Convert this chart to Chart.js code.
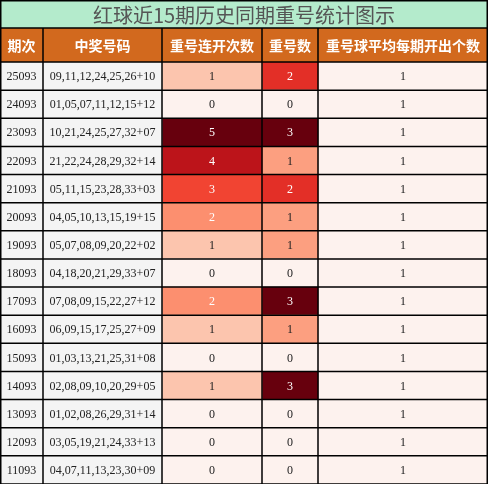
<!DOCTYPE html>
<html><head><meta charset="utf-8">
<script src="https://cdn.jsdelivr.net/npm/chart.js@4/dist/chart.umd.min.js"></script>
<style>html,body{margin:0;padding:0;background:#fff}#c{display:block}</style>
</head><body>
<canvas id="c" width="488" height="484"></canvas>
<script>
const title = "红球近15期历史同期重号统计图示"
const headers = ["期次", "中奖号码", "重号连开次数", "重号数", "重号球平均每期开出个数"]
const periods = ["25093","24093","23093","22093","21093","20093","19093","18093","17093","16093","15093","14093","13093","12093","11093"]
const draws = ["09,11,12,24,25,26+10","01,05,07,11,12,15+12","10,21,24,25,27,32+07","21,22,24,28,29,32+14","05,11,15,23,28,33+03","04,05,10,13,15,19+15","05,07,08,09,20,22+02","04,18,20,21,29,33+07","07,08,09,15,22,27+12","06,09,15,17,25,27+09","01,03,13,21,25,31+08","02,08,09,10,20,29+05","01,02,08,26,29,31+14","03,05,19,21,24,33+13","04,07,11,13,23,30+09"]
const streak = [1,0,5,4,3,2,1,0,2,1,0,1,0,0,0]
const repeats = [2,0,3,1,2,1,1,0,3,1,0,3,0,0,0]
const avgPerDraw = [1,1,1,1,1,1,1,1,1,1,1,1,1,1,1]

// column edges in px
const edges = [0, 43, 162, 262, 318, 488]
const streakColors = ["#fdf2ee","#fcc5ae","#fc8f6f","#f14432","#bc141a","#67000d"]
const repeatColors = ["#fdf2ee","#fc9f80","#e32f27","#67000d"]

const texts = [periods, draws, streak, repeats, avgPerDraw]
const fills = [
  () => "#f4f4f4",
  () => "#f4f4f4",
  i => streakColors[streak[i]],
  i => repeatColors[repeats[i]],
  () => "#fdf2ee",
]
const datasets = texts.map((col, k) => ({
  data: periods.map(() => [edges[k], edges[k + 1]]),
  backgroundColor: periods.map((_, i) => fills[k](i)),
  borderWidth: 0,
  barPercentage: 1,
  categoryPercentage: 1,
  grouped: false,
}))

const tablePlugin = {
  id: "table",
  beforeDraw(chart) {
    const ctx = chart.ctx
    ctx.save()
    ctx.fillStyle = "#b4ebcc"
    ctx.fillRect(0, 0, 488, 28)
    ctx.fillStyle = "#d2691e"
    ctx.fillRect(0, 28, 488, 34)
    ctx.fillStyle = "#555"
    ctx.font = "20px 'Noto Sans CJK SC'"
    ctx.textAlign = "center"
    ctx.textBaseline = "middle"
    ctx.fillText(title, 244, 15)
    ctx.fillStyle = "#fff"
    ctx.font = "bold 14px 'Noto Sans CJK SC'"
    headers.forEach((h, k) => ctx.fillText(h, (edges[k] + edges[k + 1]) / 2, 46))
    ctx.restore()
  },
  afterDatasetsDraw(chart) {
    const ctx = chart.ctx
    const y = chart.scales.y
    ctx.save()
    ctx.textAlign = "center"
    ctx.textBaseline = "middle"
    ctx.font = "12px 'Liberation Serif'"
    periods.forEach((_, i) => {
      const cy = y.getPixelForValue(i)
      texts.forEach((col, k) => {
        const v = col[i]
        let dark = (k === 2 && v >= 2) || (k === 3 && v >= 2)
        ctx.fillStyle = dark ? "#fff" : "#222"
        ctx.fillText(String(v), (edges[k] + edges[k + 1]) / 2, cy + 1)
      })
    })
    // grid
    ctx.strokeStyle = "#000"
    ctx.lineWidth = 1.5
    ctx.beginPath()
    ctx.moveTo(0, 28); ctx.lineTo(488, 28)
    const top = chart.chartArea.top
    ctx.moveTo(0, top); ctx.lineTo(488, top)
    periods.forEach((_, i) => {
      const b = y.getPixelForValue(i) + (y.getPixelForValue(1) - y.getPixelForValue(0)) / 2
      ctx.moveTo(0, b); ctx.lineTo(488, b)
    })
    edges.forEach(x => {
      const xx = Math.min(Math.max(x, 0.75), 487.25)
      ctx.moveTo(xx, 28); ctx.lineTo(xx, 484)
    })
    ctx.moveTo(0, 0.75); ctx.lineTo(488, 0.75)
    ctx.moveTo(0.75, 0); ctx.lineTo(0.75, 28)
    ctx.moveTo(487.25, 0); ctx.lineTo(487.25, 28)
    ctx.stroke()
    ctx.restore()
  },
}

new Chart(document.getElementById("c"), {
  type: "bar",
  data: { labels: periods, datasets },
  options: {
    indexAxis: "y",
    responsive: false,
    animation: false,
    layout: { padding: { top: 62, left: 0, right: 0, bottom: 0 } },
    plugins: { legend: { display: false }, tooltip: { enabled: false } },
    scales: {
      x: { type: "linear", min: 0, max: 488, display: false },
      y: { type: "category", display: false, offset: true },
    },
  },
  plugins: [tablePlugin],
})
</script>
</body></html>
